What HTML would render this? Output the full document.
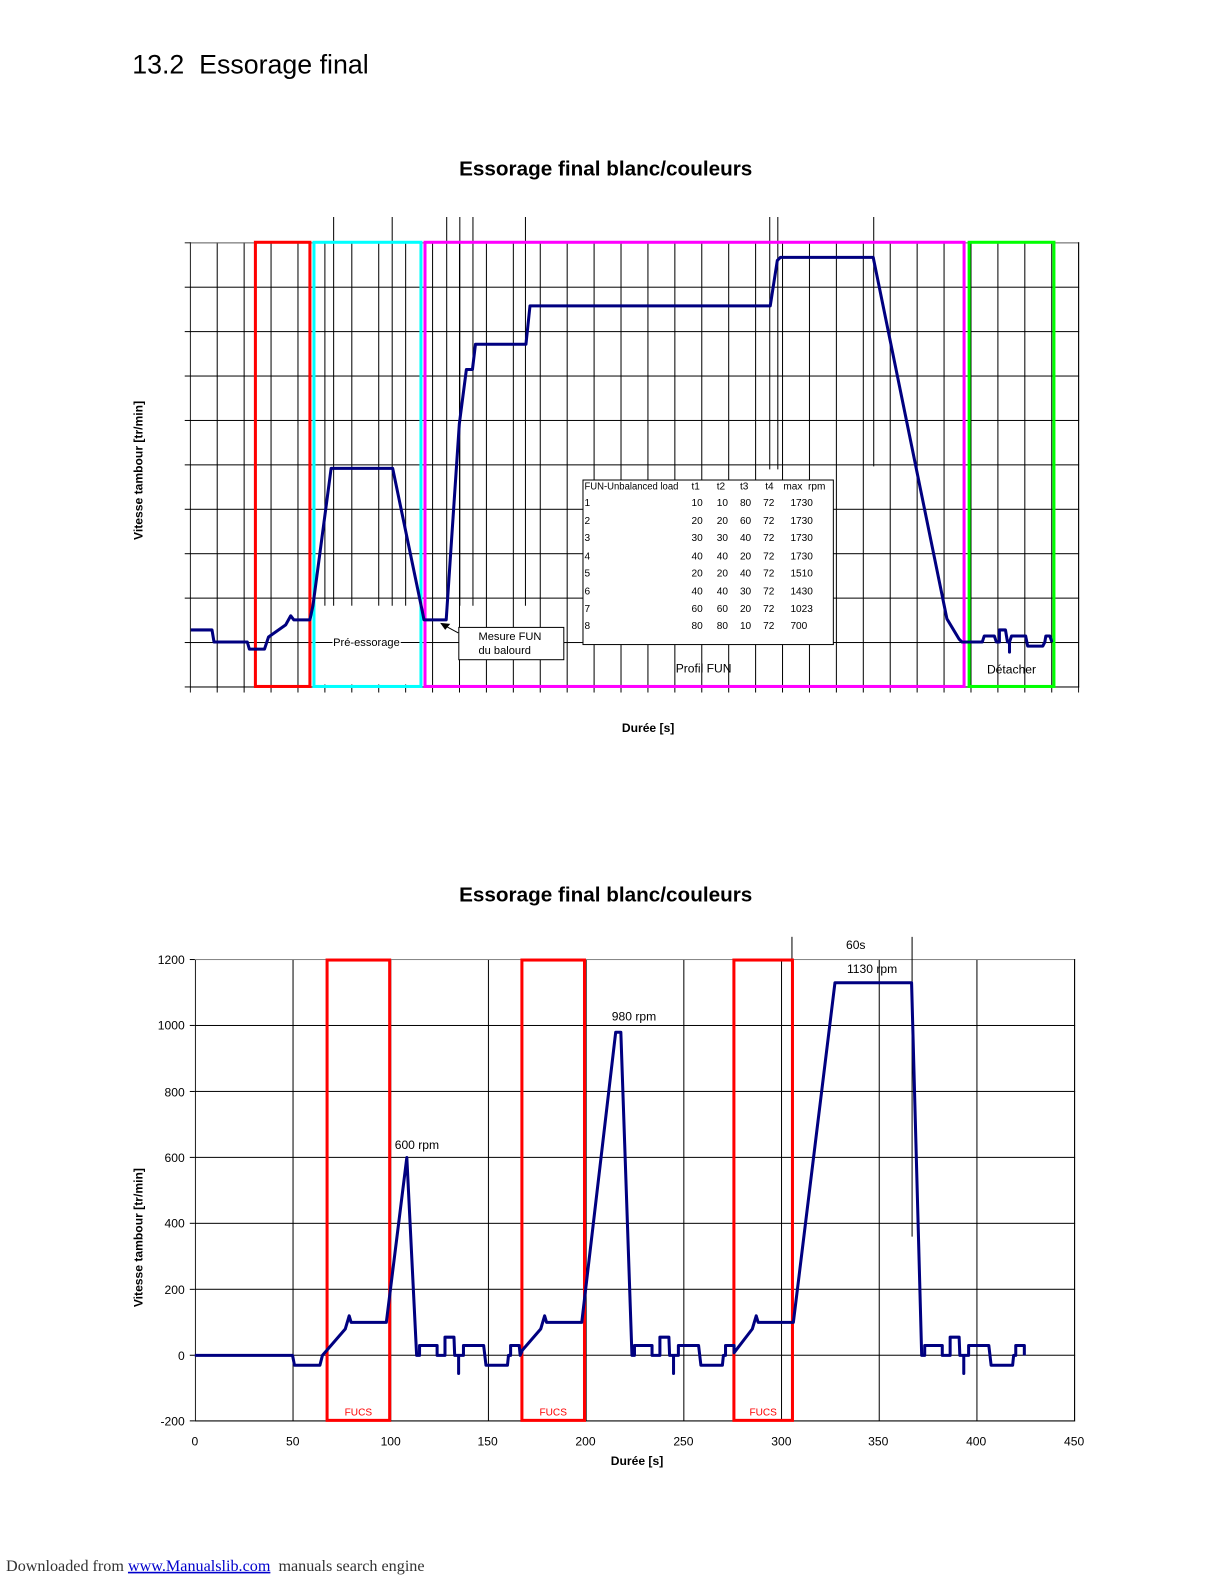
<!DOCTYPE html>
<html><head><meta charset="utf-8"><style>
html,body{margin:0;padding:0;background:#fff;}
svg{display:block;}
</style></head><body>
<svg width="1224" height="1584" viewBox="0 0 1224 1584" xmlns="http://www.w3.org/2000/svg" font-family="Liberation Sans, sans-serif">
<defs>
<pattern id="g1" patternUnits="userSpaceOnUse" x="188" y="240" width="26.667" height="44">
<path d="M0.5,0 V44 M0,0.5 H26.667" stroke="#000" stroke-width="1" fill="none"/>
</pattern>
<pattern id="t1x" patternUnits="userSpaceOnUse" x="188" y="680" width="26.667" height="6">
<path d="M0.5,0 V6" stroke="#000" stroke-width="1"/>
</pattern>
<pattern id="t1y" patternUnits="userSpaceOnUse" x="183" y="240" width="6" height="44">
<path d="M0,0.5 H6" stroke="#000" stroke-width="1"/>
</pattern>
<pattern id="g2" patternUnits="userSpaceOnUse" x="193" y="950" width="96.78" height="65.33">
<path d="M0.5,0 V65.33 M0,0.5 H96.78" stroke="#000" stroke-width="1" fill="none"/>
</pattern>
</defs>
<g transform="scale(1.0095)">
<text x="131" y="73" font-size="26.5">13.2&#160; Essorage final</text>

<!-- TOP CHART -->
<text x="600" y="174" font-size="20.5" font-weight="bold" text-anchor="middle">Essorage final blanc/couleurs</text>
<rect x="188" y="240" width="881" height="441" fill="url(#g1)"/>
<path d="M1068.5,240 V680.5 H188" stroke="#000" fill="none"/>
<path d="M188,240.5 H1068" stroke="#888" fill="none"/>
<rect x="188" y="680" width="881" height="6" fill="url(#t1x)"/>
<rect x="183" y="240" width="6" height="441" fill="url(#t1y)"/>
<rect x="313" y="600" width="103" height="78" fill="#fff"/>
<line x1="313" y1="636.5" x2="416" y2="636.5" stroke="#000"/>
<g stroke="#000" stroke-width="1">
<line x1="330.5" y1="215" x2="330.5" y2="600"/>
<line x1="388.5" y1="215" x2="388.5" y2="600"/>
<line x1="442.5" y1="215" x2="442.5" y2="612"/>
<line x1="455.5" y1="215" x2="455.5" y2="600"/>
<line x1="468.5" y1="215" x2="468.5" y2="600"/>
<line x1="520.5" y1="215" x2="520.5" y2="600"/>
<line x1="762.5" y1="215" x2="762.5" y2="465"/>
<line x1="770.5" y1="215" x2="770.5" y2="465"/>
<line x1="865.5" y1="215" x2="865.5" y2="462"/>
</g>
<g fill="none" stroke-width="3">
<rect x="253" y="240" width="54" height="440" stroke="#ff0000"/>
<rect x="311" y="240" width="106" height="440" stroke="#00ffff"/>
<rect x="421" y="240" width="534" height="440" stroke="#ff00ff"/>
<rect x="960" y="240" width="84" height="440" stroke="#00ff00"/>
</g>
<polyline fill="none" stroke="#000080" stroke-width="3" stroke-linejoin="round" points="189,624 210,624 212,636 245,636 247,643 262,643 264,637 266,631 283,619 288,610 291,614 307,614 310,600 328,464 389,464 418,604 420,614 442,614 455,420 462,366 468,366 471,341 521,341 525,303 763,303 770,258 773,255 865,255 938,613 950,633 953,636 973,636 975,630 985,630 987,636 990,636 990,624 996,624 998,636 1000,636 1000,646 1000,636 1002,630 1016,630 1018,640 1033,640 1035,636 1036,630 1040,630 1042,636"/>
<text x="363" y="640" font-size="11" text-anchor="middle" fill="#000" style="paint-order:stroke" stroke="#fff" stroke-width="3">Pré-essorage</text>
<rect x="454.5" y="621.5" width="104" height="32" fill="#fff" stroke="#000"/>
<text x="474" y="634" font-size="11">Mesure FUN</text>
<text x="474" y="648" font-size="11">du balourd</text>
<line x1="454" y1="627" x2="443" y2="621" stroke="#000"/>
<polygon points="436,617 446,618 441,624" fill="#000"/>
<rect x="577.5" y="475.5" width="248" height="163" fill="#fff" stroke="#000"/>
<g font-size="10" style="font-family:'Liberation Sans Narrow','Liberation Sans',sans-serif">
<text x="579" y="485" textLength="93" lengthAdjust="spacingAndGlyphs">FUN-Unbalanced load</text>
<text x="685" y="485">t1</text><text x="710" y="485">t2</text><text x="733" y="485">t3</text><text x="758" y="485">t4</text><text x="776" y="485">max&#160; rpm</text>
<text x="579" y="501">1</text><text x="685" y="501">10</text><text x="710" y="501">10</text><text x="733" y="501">80</text><text x="756" y="501">72</text><text x="783" y="501">1730</text>
<text x="579" y="519">2</text><text x="685" y="519">20</text><text x="710" y="519">20</text><text x="733" y="519">60</text><text x="756" y="519">72</text><text x="783" y="519">1730</text>
<text x="579" y="536">3</text><text x="685" y="536">30</text><text x="710" y="536">30</text><text x="733" y="536">40</text><text x="756" y="536">72</text><text x="783" y="536">1730</text>
<text x="579" y="554">4</text><text x="685" y="554">40</text><text x="710" y="554">40</text><text x="733" y="554">20</text><text x="756" y="554">72</text><text x="783" y="554">1730</text>
<text x="579" y="571">5</text><text x="685" y="571">20</text><text x="710" y="571">20</text><text x="733" y="571">40</text><text x="756" y="571">72</text><text x="783" y="571">1510</text>
<text x="579" y="589">6</text><text x="685" y="589">40</text><text x="710" y="589">40</text><text x="733" y="589">30</text><text x="756" y="589">72</text><text x="783" y="589">1430</text>
<text x="579" y="606">7</text><text x="685" y="606">60</text><text x="710" y="606">60</text><text x="733" y="606">20</text><text x="756" y="606">72</text><text x="783" y="606">1023</text>
<text x="579" y="623">8</text><text x="685" y="623">80</text><text x="710" y="623">80</text><text x="733" y="623">10</text><text x="756" y="623">72</text><text x="783" y="623">700</text>
</g>
<text x="697" y="666" font-size="12" text-anchor="middle">Profil FUN</text>
<text x="1002" y="667" font-size="12" text-anchor="middle">Détacher</text>
<text x="642" y="725" font-size="12" font-weight="bold" text-anchor="middle">Durée [s]</text>
<text transform="translate(141,466) rotate(-90)" font-size="12" font-weight="bold" text-anchor="middle">Vitesse tambour [tr/min]</text>

<!-- BOTTOM CHART -->
<text x="600" y="893" font-size="20.5" font-weight="bold" text-anchor="middle">Essorage final blanc/couleurs</text>
<rect x="193" y="950" width="872" height="458" fill="url(#g2)"/>
<path d="M1064.5,950 V1407.5 H193" stroke="#000" fill="none"/>
<path d="M193,950.5 H1064" stroke="#888" fill="none"/>
<g stroke="#000">
<line x1="188" y1="950.5" x2="193" y2="950.5"/><line x1="188" y1="1015.8" x2="193" y2="1015.8"/>
<line x1="188" y1="1081.2" x2="193" y2="1081.2"/><line x1="188" y1="1146.5" x2="193" y2="1146.5"/>
<line x1="188" y1="1211.8" x2="193" y2="1211.8"/><line x1="188" y1="1277.2" x2="193" y2="1277.2"/>
<line x1="188" y1="1342.5" x2="193" y2="1342.5"/><line x1="188" y1="1407.5" x2="193" y2="1407.5"/>
<line x1="784.5" y1="928" x2="784.5" y2="950"/>
<line x1="903.5" y1="928" x2="903.5" y2="1225"/>
</g>
<g font-size="12" text-anchor="end">
<text x="183" y="955">1200</text><text x="183" y="1020">1000</text><text x="183" y="1086">800</text>
<text x="183" y="1151">600</text><text x="183" y="1216">400</text><text x="183" y="1282">200</text>
<text x="183" y="1347">0</text><text x="183" y="1412">-200</text>
</g>
<g font-size="12" text-anchor="middle">
<text x="193" y="1432">0</text><text x="290" y="1432">50</text><text x="387" y="1432">100</text>
<text x="483" y="1432">150</text><text x="580" y="1432">200</text><text x="677" y="1432">250</text>
<text x="774" y="1432">300</text><text x="870" y="1432">350</text><text x="967" y="1432">400</text>
<text x="1064" y="1432">450</text>
</g>
<text x="631" y="1451" font-size="12" font-weight="bold" text-anchor="middle">Durée [s]</text>
<text transform="translate(141,1226) rotate(-90)" font-size="12" font-weight="bold" text-anchor="middle">Vitesse tambour [tr/min]</text>
<g fill="none" stroke="#ff0000" stroke-width="3">
<rect x="324" y="951" width="62" height="456"/>
<rect x="517" y="951" width="62" height="456"/>
<rect x="727" y="951" width="58" height="456"/>
</g>
<g font-size="10" fill="#ff0000" text-anchor="middle">
<text x="355" y="1402">FUCS</text><text x="548" y="1402">FUCS</text><text x="756" y="1402">FUCS</text>
</g>
<polyline fill="none" stroke="#000080" stroke-width="3" stroke-linejoin="round" points="193,1342.6 289.8,1342.6 291.7,1352.4 316.9,1352.4 319.4,1342.6 323.7,1337.7 342,1316.5 345.9,1303.4 347.8,1309.9 382.7,1309.9 403,1146.6 412.7,1342.6 415.6,1342.6 415.6,1332.8 433,1332.8 433,1342.6 440.8,1342.6 440.8,1324.6 449.7,1324.6 450.4,1342.6 454.3,1342.6 454.3,1360.6 454.3,1342.6 459.1,1342.6 459.1,1332.8 479.1,1332.8 481.4,1352.4 502.7,1352.4 503.7,1342.6 505.8,1342.6 505.8,1332.8 514.3,1332.8 515.3,1342.6 517.3,1337.7 535.6,1316.5 539.5,1303.4 541.4,1309.9 576.3,1309.9 609.9,1022.5 615,1022.5 626,1342.6 628.5,1342.6 628.5,1332.8 645.9,1332.8 645.9,1342.6 653.7,1342.6 653.7,1324.6 662.6,1324.6 663.3,1342.6 667.2,1342.6 667.2,1360.6 667.2,1342.6 672,1342.6 672,1332.8 692,1332.8 694.3,1352.4 715.6,1352.4 716.6,1342.6 718.7,1342.6 718.7,1332.8 727.2,1332.8 727.2,1340 745.2,1316.5 749.1,1303.4 751,1309.9 785.9,1309.9 827.1,973.5 903,973.5 913,1342.6 916,1342.6 916,1332.8 933.4,1332.8 933.4,1342.6 941.2,1342.6 941.2,1324.6 950.1,1324.6 950.8,1342.6 954.7,1342.6 954.7,1360.6 954.7,1342.6 959.5,1342.6 959.5,1332.8 979.5,1332.8 981.8,1352.4 1003.1,1352.4 1004.1,1342.6 1006.2,1342.6 1006.2,1332.8 1014.7,1332.8 1014.7,1342.6"/>
<g font-size="12">
<text x="391" y="1138">600 rpm</text>
<text x="606" y="1011">980 rpm</text>
<text x="839" y="964">1130 rpm</text>
<text x="838" y="940">60s</text>
</g>
<text x="6" y="1556" font-size="16" style="font-family:'Liberation Serif',serif" fill="#333">Downloaded from <tspan fill="#0000cc" text-decoration="underline">www.Manualslib.com</tspan>&#160; manuals search engine</text>
</g>
</svg>
</body></html>
